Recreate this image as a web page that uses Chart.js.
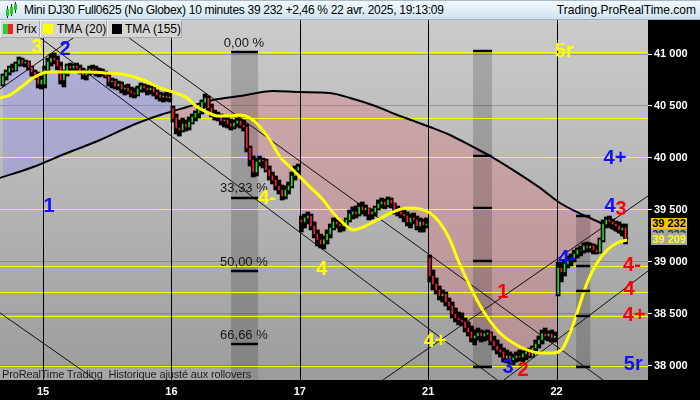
<!DOCTYPE html>
<html><head><meta charset="utf-8">
<script src="https://cdn.jsdelivr.net/npm/chart.js@4.4.1/dist/chart.umd.min.js"></script>
<style>
html,body{margin:0;padding:0;background:#000;}
#wrap{position:relative;width:700px;height:400px;overflow:hidden;font-family:'Liberation Sans',Arial,sans-serif;}
canvas{position:absolute;left:0;top:0;}
#hdr{position:absolute;left:0;top:0;width:700px;height:20px;box-sizing:border-box;background:linear-gradient(#f3f9fe,#cfe3f1);border-top:1px solid #a9b9c6;border-bottom:1px solid #9fb1c0;font-size:12px;color:#000;}
#hdr .t{position:absolute;left:24px;top:2px;white-space:nowrap;letter-spacing:-0.3px;}
#hdr .r{position:absolute;right:4px;top:2px;white-space:nowrap;}
.ic{position:absolute;}
.lg{position:absolute;top:20px;height:18px;box-sizing:border-box;background:#d5d5d5;border:1px solid;border-color:#efefef #a9a9a9 #a9a9a9 #efefef;font-size:12px;line-height:16px;color:#000;white-space:nowrap;}
.lg i{position:absolute;top:3px;width:10px;height:10px;}
.lg span{position:absolute;top:0;}
#note{position:absolute;left:0;top:368px;width:258px;height:12px;background:rgba(255,255,255,0.10);font-size:11px;line-height:12px;color:#1e1e1e;white-space:nowrap;padding-left:2px;box-sizing:border-box;letter-spacing:-0.15px;}
.vb{position:absolute;left:651px;width:36px;font-size:11px;font-weight:bold;text-align:center;overflow:hidden;}
</style></head>
<body>
<div id="wrap">
<canvas id="c" width="700" height="400"></canvas>
<div id="hdr">
  <div class="ic" style="left:7px;top:5px;width:1px;height:12px;background:#222"></div>
  <div class="ic" style="left:6px;top:8px;width:3px;height:7px;background:#2c2"></div>
  <div class="ic" style="left:11px;top:3px;width:1px;height:12px;background:#222"></div>
  <div class="ic" style="left:10px;top:6px;width:3px;height:7px;background:#2c2"></div>
  <div class="ic" style="left:15px;top:1px;width:1px;height:11px;background:#222"></div>
  <div class="ic" style="left:14px;top:3px;width:3px;height:6px;background:#2c2"></div>
  <div class="t">Mini DJ30 Full0625 (No Globex) 10 minutes 39 232 +2,46 % 22 avr. 2025, 19:13:09</div>
  <div class="r">Trading.ProRealTime.com</div>
</div>
<div class="lg" style="left:0;width:40px;"><i style="left:2px;width:5px;background:#3c3"></i><i style="left:7px;width:5px;background:#e22"></i><span style="left:15px">Prix</span></div>
<div class="lg" style="left:40px;width:67px;"><i style="left:2px;background:#ff0"></i><span style="left:16px">TMA (20)</span></div>
<div class="lg" style="left:107px;width:75px;"><i style="left:4px;background:#000"></i><span style="left:17px">TMA (155)</span></div>
<div id="note">ProRealTime Trading&nbsp; Historique ajusté aux rollovers</div>
<div class="vb" style="top:218px;height:11px;line-height:11px;background:#f6c300;color:#000;">39 232</div>
<div class="vb" style="top:229px;height:11px;line-height:11px;background:#a6a6a6;color:#333;">39 222</div>
<div class="vb" style="top:233px;height:12px;line-height:12px;background:#a6a6a6;color:#ffff00;">39 209</div>
</div>
<script>
// ---------- data ----------
const dayLabels = ['15','16','17','21','22'];
const dayStarts = [0, 40, 80, 120, 160];
const yTicks = [38000, 38500, 39000, 39500, 40000, 40500, 41000];
const firstBar = -13;

const opens = [
40711,40788,40827,40865,40846,40904,40942,40913,40923,40875,40827,40798,40711,
40711,40846,40923,40961,40942,40884,40750,40808,40884,40865,40884,40865,40827,40798,40817,40856,40846,40827,40836,40817,40788,40731,40740,40692,40711,40663,40673,40644,40625,40615,40663,40692,40673,40654,40673,40634,40606,40586,40596,40577,
40481,40384,40288,40269,40327,40298,40346,40394,40432,40461,40538,40577,40481,40423,40404,40413,40356,40365,40327,40308,40336,40356,40317,40298,40096,39981,39865,39962,39981,39971,39884,39827,39788,39731,39692,39635,39692,39731,39827,39884,
39404,39385,39423,39442,39346,39269,39212,39173,39212,39269,39327,39385,39365,39346,39365,39404,39461,39481,39461,39529,39500,39519,39461,39481,39519,39558,39577,39548,39596,39567,39500,39481,39461,39442,39385,39423,39404,39346,39385,39356,
39038,38865,38788,38731,38673,38692,38615,38577,38500,38461,38442,38423,38365,38327,38269,38288,38317,38288,38308,38317,38240,38192,38154,38135,38077,38096,38058,38077,38096,38086,38115,38135,38096,38173,38211,38250,38308,38288,38308,38269,
38692,38942,38904,38981,39019,39038,39077,39115,39115,39154,39135,39154,39115,39096,39212,39365,39404,39385,39365,39346,39308,39327];
const highs = [
40808,40846,40884,40904,40923,40971,40961,40942,40933,40884,40846,40827,40788,
40884,40961,41000,41010,40981,40923,40846,40904,40913,40904,40913,40894,40865,40846,40884,40894,40884,40865,40856,40836,40808,40769,40759,40740,40731,40702,40711,40683,40673,40692,40721,40711,40702,40692,40683,40654,40634,40625,40634,40625,
40500,40423,40365,40384,40365,40394,40423,40452,40481,40558,40615,40596,40519,40461,40442,40423,40404,40394,40375,40365,40384,40375,40365,40327,40115,40019,40000,40019,40000,39990,39923,39865,39827,39788,39740,39731,39769,39865,39923,39942,
39442,39461,39481,39461,39385,39308,39269,39250,39308,39365,39423,39433,39404,39394,39423,39500,39529,39538,39567,39577,39548,39519,39510,39538,39596,39615,39606,39625,39615,39567,39538,39519,39500,39481,39461,39471,39442,39423,39413,39423,
39067,38923,38846,38769,38731,38711,38654,38615,38558,38519,38510,38461,38423,38385,38346,38365,38346,38336,38346,38327,38288,38250,38211,38173,38154,38135,38115,38135,38154,38144,38163,38173,38192,38250,38288,38346,38365,38336,38346,38327,
39000,39000,39019,39058,39077,39115,39135,39154,39183,39192,39183,39173,39163,39231,39404,39433,39442,39413,39394,39385,39365,39365];
const lows = [
40692,40750,40798,40827,40836,40884,40884,40875,40846,40788,40759,40673,40663,
40673,40827,40884,40904,40846,40711,40683,40788,40827,40827,40836,40808,40759,40750,40798,40808,40788,40779,40788,40769,40692,40673,40663,40654,40625,40606,40615,40586,40577,40596,40634,40634,40606,40615,40596,40567,40548,40538,40548,40538,
40346,40231,40211,40250,40259,40269,40327,40356,40384,40423,40481,40442,40394,40365,40356,40317,40298,40288,40269,40279,40298,40288,40259,40058,39923,39817,39827,39923,39904,39865,39788,39750,39692,39654,39596,39606,39654,39712,39788,39827,
39288,39327,39365,39308,39231,39154,39135,39125,39173,39231,39308,39327,39288,39298,39327,39385,39413,39423,39442,39461,39442,39404,39413,39442,39500,39519,39510,39529,39519,39461,39442,39423,39385,39346,39327,39365,39308,39288,39288,39327,
38808,38731,38692,38635,38615,38577,38538,38461,38423,38394,38385,38327,38288,38231,38202,38250,38231,38240,38250,38202,38154,38115,38086,38038,38029,38019,38010,38038,38048,38038,38058,38077,38086,38135,38173,38211,38250,38240,38231,38231,
38673,38808,38865,38942,38962,39000,39038,39058,39086,39096,39096,39077,39077,39086,39192,39327,39346,39317,39298,39279,39250,39173];
const closes = [
40788,40827,40865,40846,40904,40942,40913,40923,40875,40827,40798,40711,40750,
40846,40923,40961,40942,40884,40750,40808,40884,40865,40884,40865,40827,40798,40817,40856,40846,40827,40836,40817,40788,40731,40740,40692,40711,40663,40673,40644,40625,40615,40663,40692,40673,40654,40673,40634,40606,40586,40596,40577,40586,
40384,40288,40269,40327,40298,40346,40394,40432,40461,40538,40577,40481,40423,40404,40413,40356,40365,40327,40308,40336,40356,40317,40298,40096,39981,39865,39962,39981,39971,39884,39827,39788,39731,39692,39635,39692,39731,39827,39884,39913,
39385,39423,39442,39346,39269,39212,39173,39212,39269,39327,39385,39365,39346,39365,39404,39461,39481,39461,39529,39500,39519,39461,39481,39519,39558,39577,39548,39596,39567,39500,39481,39461,39442,39385,39423,39404,39346,39385,39356,39365,
38865,38788,38731,38673,38692,38615,38577,38500,38461,38442,38423,38365,38327,38269,38288,38317,38288,38308,38317,38240,38192,38154,38135,38077,38096,38058,38077,38096,38086,38115,38135,38096,38173,38211,38250,38308,38288,38308,38269,38288,
38942,38904,38981,39019,39038,39077,39115,39115,39154,39135,39154,39115,39096,39212,39365,39404,39385,39365,39346,39308,39327,39231];

const tma20X = [-13.4,-10.3,-7.2,-3.1,0,2.2,7.5,13.7,19.9,26.2,31.2,36.5,40.5,44.9,48.0,51.1,54.2,58.3,61.4,64.5,67.6,70.7,73.9,77.0,80.1,83.2,87.3,90.4,93.5,96.6,99.7,104.1,109.1,113.4,117.5,120.6,123.7,126.8,129.3,132.1,135.2,138.4,142.4,146.5,150.8,154.9,158.9,162.0,164.2,166.4,169.5,172.6,175.8,178.9,182.0];
const tma20 = [40577,40606,40673,40769,40817,40827,40827,40827,40817,40798,40750,40673,40634,40577,40490,40442,40404,40404,40413,40384,40298,40173,40009,39913,39817,39721,39596,39471,39375,39308,39336,39404,39481,39519,39510,39471,39375,39212,39019,38827,38635,38471,38317,38221,38154,38125,38125,38173,38317,38510,38798,38990,39115,39183,39212];
const tma155X = [-13.4,-3.1,7.5,17.8,28.0,36.5,44.9,53.0,61.4,71.7,80.1,89.4,95.7,103.5,111.2,120.6,126.8,134.0,139.9,146.5,154.9,161.1,168.3,174.5,178.2,182.3];
const tma155 = [39808,39913,40048,40173,40317,40413,40490,40558,40596,40644,40634,40625,40577,40500,40404,40298,40221,40106,40009,39884,39712,39567,39452,39365,39308,39221];

const levels = [41019, 40384, 40009, 39510, 38962, 38711, 38481, 38000];
// trend lines: [barFrom, priceFrom, barTo, priceTo]
const trendLines = [
  [-8.3, 41327, 141.5, 37865],
  [19.1, 41327, 174.5, 37865],
  [-13.4, 40663, 17.4, 41327],
  [-13.4, 38510, 16.5, 37865],
  [105.9, 37865, 188.5, 39635],
  [143.6, 37865, 188.5, 38913]
];
// Fibonacci time bands
const bandFrom = [58.6, 134.0, 166.1];
const bandTo = [67.0, 139.9, 170.5];
const bandTop = [41010, 41029, 39442];
const bandBottom = [37865, 37990, 37990];
const bandMarks = [[41019, 39615, 38913, 38212], [41029, 40019, 39519, 39010, 37990], [39442, 38962, 38721, 38481, 37990]];
const fibText = ['0,00 %', '33,33 %', '50,00 %', '66,66 %'];
const fibPrice = [41106, 39711, 39000, 38298];
const fibBar = 62.6;
// wave labels
const waveText = ['3','2','1','4-','4','4+','1','3','2','4-','4','3','4-','4','4+','5r','4+','5r'];
const waveBar = [-1.87, 6.86, 1.87, 69.8, 86.9, 122.2, 143.3, 144.9, 149.6, 163.3, 176.7, 180.1, 183.5, 182.6, 184.2, 183.9, 178.2, 162.4];
const wavePrice = [41067, 41048, 39538, 39615, 38923, 38231, 38711, 37990, 37961, 39038, 39529, 39500, 38962, 38731, 38490, 38019, 40000, 41029];
const waveKind = ['y','b','b','y','y','y','r','b','r','b','b','r','r','r','r','b','b','y'];

// ---------- chart ----------
const yMin = 37865, yMax = 41327, xMin = -13.4, xMax = 188.5;
const kindColor = {y:'#ffff00', b:'#1010ff', r:'#ff0000'};
const n = Math.min(opens.length, highs.length, lows.length, closes.length);
const barX = []; for (let k = 0; k < n; k++) barX.push(firstBar + k + 0.5);

Chart.defaults.font.family = "'Liberation Sans', Arial, sans-serif";

const ds = [];
ds.push({type:'line', data: barX.map((x,k)=>({x, y: closes[k]})), borderWidth:0, borderColor:'rgba(0,0,0,0)', pointRadius:0,
  fill:{target:1, above:'rgba(140,140,236,0.42)', below:'rgba(218,120,132,0.38)'}, order:100});
ds.push({type:'line', data: tma155X.map((x,k)=>({x, y: tma155[k]})), borderColor:'#000', borderWidth:2, pointRadius:0, fill:false, cubicInterpolationMode:'monotone', order:50});
trendLines.forEach(t => ds.push({type:'line', data:[{x:t[0],y:t[1]},{x:t[2],y:t[3]}], borderColor:'#111', borderWidth:1, pointRadius:0, fill:false, order:80}));
ds.push({type:'bar', data: barX.map((x,k)=>({x, y:[lows[k], highs[k]]})), backgroundColor:'#000', barThickness:4, grouped:false, order:40});
ds.push({type:'bar', data: barX.map((x,k)=>({x, y:[opens[k], closes[k]]})), backgroundColor: barX.map((x,k)=> closes[k] >= opens[k] ? '#22dd22' : '#ff1a3a'), barThickness:1, grouped:false, order:30});
ds.push({type:'line', data: tma20X.map((x,k)=>({x, y: tma20[k]})), borderColor:'#ffff00', borderWidth:3, pointRadius:0, fill:false, cubicInterpolationMode:'monotone', order:20});

const fmt = v => String(v).replace(/\B(?=(\d{3})+(?!\d))/g, ' ');

const bgPlugin = {
  id:'bg',
  beforeDraw(chart){
    const {ctx, chartArea:a} = chart;
    ctx.save();
    ctx.fillStyle = '#000'; ctx.fillRect(0,0,chart.width,chart.height);
    const g = ctx.createLinearGradient(0, a.top, 0, a.bottom);
    g.addColorStop(0, '#cbcbcb'); g.addColorStop(0.5, '#b5b5b5'); g.addColorStop(1, '#9c9c9c');
    ctx.fillStyle = g; ctx.fillRect(a.left, a.top, a.right-a.left, a.bottom-a.top);
    ctx.restore();
  },
  afterDatasetDraw(chart, args){
    if (args.index !== 0) return;
    const {ctx, chartArea:a} = chart; const xs = chart.scales.x, ys = chart.scales.y;
    ctx.save(); ctx.beginPath(); ctx.rect(a.left, a.top, a.right-a.left, a.bottom-a.top); ctx.clip();
    ctx.fillStyle = 'rgba(0,0,0,0.17)';
    bandFrom.forEach((f,i)=>{
      const l = xs.getPixelForValue(f), r = xs.getPixelForValue(bandTo[i]);
      const t = ys.getPixelForValue(bandTop[i]), b = ys.getPixelForValue(bandBottom[i]);
      ctx.fillRect(l, t, r-l, b-t);
    });
    // horizontal yellow levels, pixel-snapped
    ctx.strokeStyle = '#ffff00'; ctx.lineWidth = 1;
    levels.forEach(v => {
      const y = Math.round(ys.getPixelForValue(v)) + 0.5;
      ctx.beginPath(); ctx.moveTo(a.left, y); ctx.lineTo(a.right, y); ctx.stroke();
    });
    // day separators, pixel-snapped
    ctx.strokeStyle = '#000';
    dayStarts.forEach(d => {
      const x = Math.round(xs.getPixelForValue(d)) + 0.5;
      ctx.beginPath(); ctx.moveTo(x, a.top); ctx.lineTo(x, a.bottom); ctx.stroke();
    });
    ctx.restore();
  },
  afterDatasetsDraw(chart){
    const {ctx, chartArea:a} = chart; const xs = chart.scales.x, ys = chart.scales.y;
    ctx.save(); ctx.beginPath(); ctx.rect(a.left, a.top, a.right-a.left, a.bottom-a.top); ctx.clip();
    ctx.strokeStyle = '#000'; ctx.lineWidth = 2.5;
    bandMarks.forEach((ms,i)=>{
      const l = xs.getPixelForValue(bandFrom[i]), r = xs.getPixelForValue(bandTo[i]);
      ms.forEach(m => { const y = Math.round(ys.getPixelForValue(m)); ctx.beginPath(); ctx.moveTo(l, y); ctx.lineTo(r, y); ctx.stroke(); });
    });
    ctx.fillStyle = '#161616'; ctx.font = "13px 'Liberation Sans', Arial, sans-serif";
    ctx.textAlign = 'center'; ctx.textBaseline = 'middle';
    fibText.forEach((t,i)=> ctx.fillText(t, xs.getPixelForValue(fibBar), ys.getPixelForValue(fibPrice[i])));
    ctx.font = "bold 20px 'Liberation Sans', Arial, sans-serif";
    waveText.forEach((t,i)=>{
      ctx.fillStyle = kindColor[waveKind[i]];
      ctx.fillText(t, xs.getPixelForValue(waveBar[i]), ys.getPixelForValue(wavePrice[i]));
    });
    ctx.restore();
  }
};

new Chart(document.getElementById('c'), {
  type:'line',
  data:{datasets: ds},
  options:{
    responsive:false, animation:false, devicePixelRatio:1,
    layout:{padding:{top:20, left:0, right:0, bottom:0}},
    plugins:{legend:{display:false}, tooltip:{enabled:false}},
    elements:{point:{radius:0}, line:{tension:0}},
    scales:{
      x:{type:'linear', min:xMin, max:xMax, offset:false,
         afterBuildTicks: s => { s.ticks = dayStarts.map(v => ({value:v})); },
         afterFit: s => { s.height = 20; },
         backgroundColor:'#000', border:{display:false},
         grid:{display:false, drawTicks:false, offset:false},
         ticks:{color:'#fff', font:{size:11, weight:'bold'}, padding:5, maxRotation:0, autoSkip:false,
                callback:(v,i)=> dayLabels[i]}},
      y:{type:'linear', position:'right', min:yMin, max:yMax,
         afterBuildTicks: s => { s.ticks = yTicks.map(v => ({value:v})); },
         afterFit: s => { s.width = 52; },
         backgroundColor:'#000', border:{display:false},
         grid:{color:'rgba(95,95,95,0.45)', lineWidth:1, tickColor:'#fff', tickLength:4, drawTicks:true},
         ticks:{color:'#fff', font:{size:11, weight:'bold'}, padding:2, callback: v => fmt(v)}}
    }
  },
  plugins:[bgPlugin]
});
</script>
</body></html>
